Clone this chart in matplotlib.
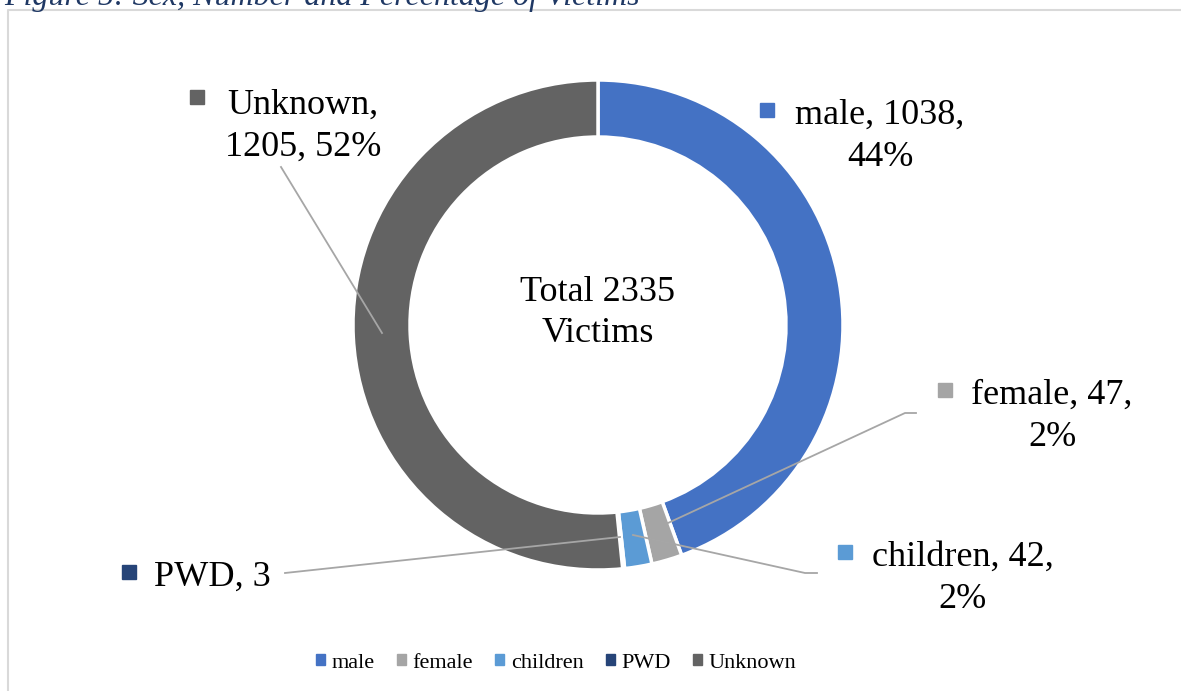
import matplotlib.pyplot as plt
from matplotlib.patches import Patch

# =========================================================
# data
# =========================================================
labels = ["male", "female", "children", "PWD", "Unknown"]
counts = [1038, 47, 42, 3, 1205]
colors = ["#4472C4", "#A5A5A5", "#5B9BD5", "#264478", "#636363"]
total = sum(counts)
caption = "Figure 5: Sex, Number and Percentage of Victims"

# =========================================================
# layout (pixel coordinates, origin top-left)
# =========================================================
W, H = 1181, 691


def Y(y):
    return H - y


plt.rcParams['font.family'] = ['Liberation Serif', 'DejaVu Serif']

fig = plt.figure(figsize=(W / 100, H / 100), dpi=100)
ax = fig.add_axes([0, 0, 1, 1])

ax.pie(counts, colors=colors, radius=245, center=(598, Y(325)),
       startangle=90, counterclock=False,
       wedgeprops=dict(width=57, edgecolor='white', linewidth=2.5))
ax.set_xlim(0, W)
ax.set_ylim(0, H)
ax.set_aspect('equal')
ax.axis('off')

# chart frame and cut-off caption (the reference crops it at the top)
ax.plot([8, 8, W], [Y(H + 5), Y(10), Y(10)], color='#D9D9D9', lw=1.5,
        clip_on=False)
ax.text(4, Y(5), caption, fontsize=23, style='italic', color='#1F3864',
        ha='left', va='baseline')

# centre text
ax.text(598, Y(313), f"Total {total}\nVictims", fontsize=26,
        ha='center', va='center', linespacing=1.35)

# leader lines
line_kw = dict(color='#A6A6A6', lw=1.3, zorder=3)
ax.plot([281, 382], [Y(167), Y(333)], **line_kw)
ax.plot([916, 905, 668], [Y(413), Y(413), Y(523)], **line_kw)
ax.plot([817, 805, 633], [Y(573), Y(573), Y(535)], **line_kw)
ax.plot([285, 620], [Y(573), Y(537)], **line_kw)

# data labels: (marker x, marker y, text centre x, first line y)
pcts = [round(100 * c / total) for c in counts]
label_pos = {
    "male": (767, 110, 880, 113),
    "female": (945, 390, 1052, 393),
    "children": (845, 552, 963, 555),
    "PWD": (129, 572, 212, 575),
    "Unknown": (197, 97, 303, 103),
}
for name, c, p, col in zip(labels, counts, pcts, colors):
    mx, my, tx, ty = label_pos[name]
    if name == "PWD":
        txt = f"{name}, {c}"
    elif name == "Unknown":
        txt = f"{name},\n{c}, {p}%"
    else:
        txt = f"{name}, {c},\n{p}%"
    ax.plot(mx, Y(my), marker='s', ms=10, color=col, mec=col)
    ax.text(tx, Y(ty - 14), txt, fontsize=26, ha='center', va='top',
            linespacing=1.35)

# legend
handles = [Patch(color=col, label=name) for name, col in zip(labels, colors)]
fig.legend(handles=handles, loc='center', ncol=5,
           bbox_to_anchor=(556 / W, 1 - 663 / H), frameon=False,
           fontsize=16, handlelength=0.4, handleheight=0.4,
           handletextpad=0.3, columnspacing=1.0)

plt.savefig('out.png', dpi=100)
